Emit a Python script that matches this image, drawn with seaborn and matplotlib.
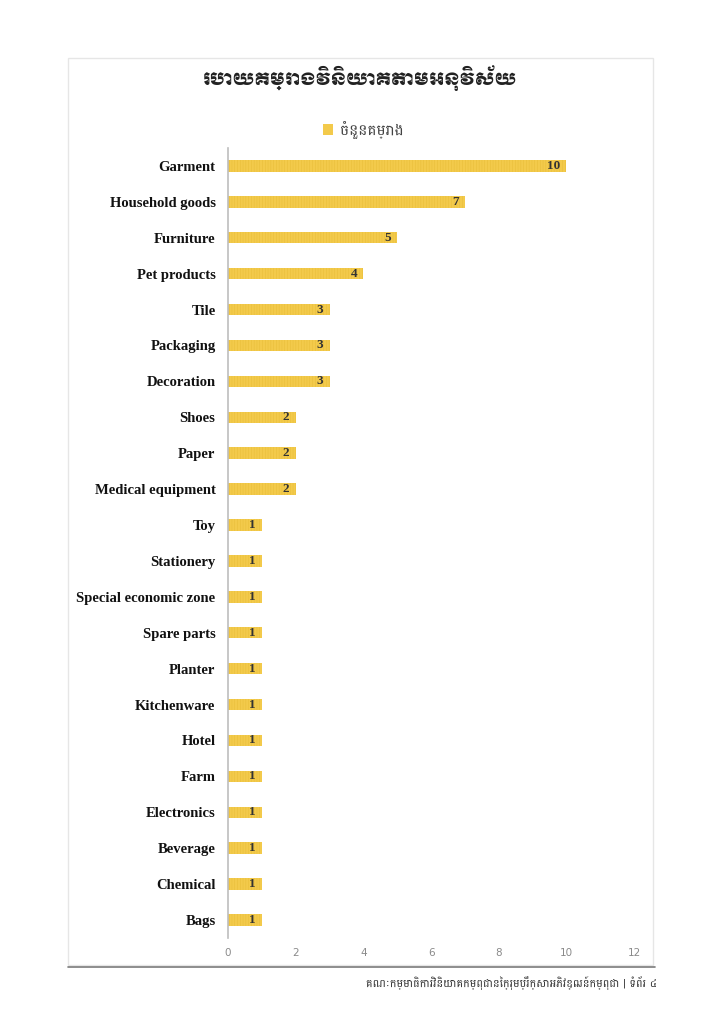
import matplotlib
matplotlib.use("Agg")
import matplotlib.pyplot as plt
import seaborn as sns
import pandas as pd
from matplotlib.patches import Rectangle
from matplotlib.lines import Line2D

# data
sectors = ["Garment", "Household goods", "Furniture", "Pet products", "Tile",
           "Packaging", "Decoration", "Shoes", "Paper", "Medical equipment",
           "Toy", "Stationery", "Special economic zone", "Spare parts",
           "Planter", "Kitchenware", "Hotel", "Farm", "Electronics",
           "Beverage", "Chemical", "Bags"]
projects = [10, 7, 5, 4, 3, 3, 3, 2, 2, 2, 1, 1, 1, 1, 1, 1, 1, 1, 1, 1, 1, 1]
x_ticks = [0, 2, 4, 6, 8, 10, 12]

title_text = "របាយគម្រោងវិនិយោគតាមអនុវិស័យ"
legend_text = "ចំនួនគម្រោង"
footer_text = "គណៈកម្មាធិការវិនិយោគកម្ពុជានៃក្រុមប្រឹក្សាអភិវឌ្ឍន៍កម្ពុជា | ទំព័រ ៤"

df = pd.DataFrame({"Sector": sectors, "Projects": projects})

sns.set_style("white")
plt.rcParams['font.family'] = ['Battambang', 'DejaVu Sans']
plt.rcParams['hatch.linewidth'] = 0.4

bar_color = "#F3CA4B"

fig = plt.figure(figsize=(7.24, 10.24), dpi=100)
ax = fig.add_axes([0.315, 0.084, 0.5608, 0.7715])

sns.barplot(data=df, x="Projects", y="Sector", orient="h", color=bar_color,
            width=0.32, saturation=1, ax=ax)
for p in ax.patches:
    p.set_hatch("||||||")
    p.set_edgecolor("#E9BE3A")
    p.set_linewidth(0)

# value labels at the end of each bar
for i, v in enumerate(projects):
    ax.annotate(str(v), xy=(v, i), xytext=(-4.5, 0), textcoords="offset points",
                ha="right", va="center", fontsize=9.5, fontweight="bold",
                family="Liberation Serif", color="#333333")

ax.set_xlim(0, 12)
ax.set_ylim(len(sectors) - 0.5, -0.5)
ax.set_xticks(x_ticks)
ax.set_xticklabels([str(t) for t in x_ticks], color="#8a8a8a", fontsize=7.5,
                   family="DejaVu Sans")
ax.tick_params(axis="x", length=0, pad=7)
ax.tick_params(axis="y", length=0, pad=9)
for lab in ax.get_yticklabels():
    lab.set_family("Liberation Serif")
    lab.set_fontweight("bold")
    lab.set_fontsize(10.5)
    lab.set_color("#111111")
ax.set_xlabel("")
ax.set_ylabel("")
for s in ["top", "right", "bottom"]:
    ax.spines[s].set_visible(False)
ax.spines["left"].set_color("#bdbdbd")
ax.spines["left"].set_linewidth(1.2)

# chart frame
fig.patches.append(Rectangle((68 / 724, 1 - 965 / 1024), (653 - 68) / 724, (965 - 58) / 1024,
                             transform=fig.transFigure, fill=False,
                             edgecolor="#e6e6e6", linewidth=1))

# title and legend
fig.text(360 / 724, 1 - 78 / 1024, title_text, ha="center", va="center",
         fontsize=12.5, family=["Moul", "DejaVu Sans"], color="#222222")
handle = Rectangle((0, 0), 1, 1, facecolor=bar_color, edgecolor="none")
fig.legend([handle], [legend_text], loc="center", bbox_to_anchor=(363 / 724, 1 - 130 / 1024),
           frameon=False, fontsize=11, handlelength=0.7, handleheight=0.7,
           handletextpad=0.4, labelcolor="#444444")

# footer
fig.add_artist(Line2D([68 / 724, 655 / 724], [1 - 967 / 1024, 1 - 967 / 1024],
                      transform=fig.transFigure, color="#7a7a7a", linewidth=1.2))
fig.text(657 / 724, 1 - 983 / 1024, footer_text, ha="right", va="center",
         fontsize=8, color="#333333")

fig.savefig("out.png", dpi=100)
